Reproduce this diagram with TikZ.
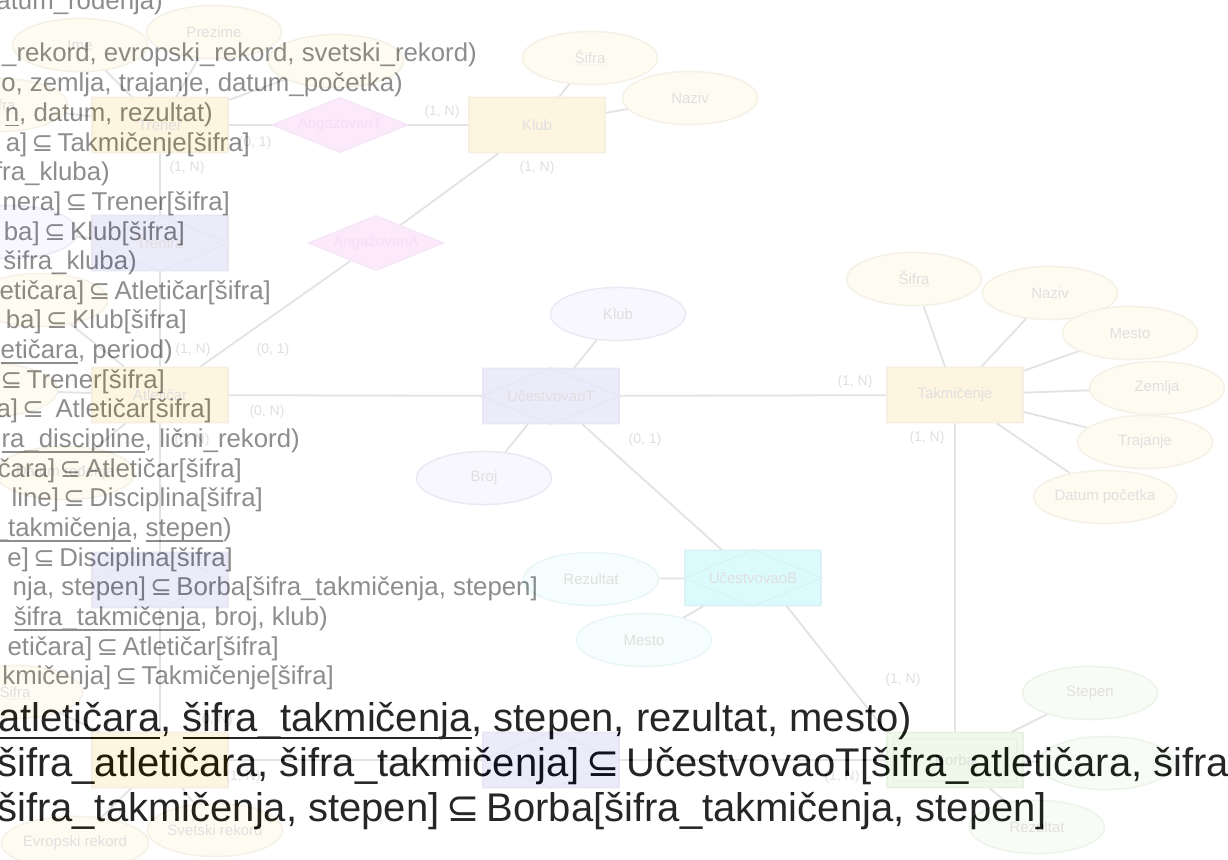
\documentclass[tikz,border=0pt]{standalone}
\usepackage{fontspec}
\setmainfont{Liberation Sans}
\newfontfamily\dejavu{DejaVu Sans}
\usetikzlibrary{shapes.geometric}
\definecolor{ertext}{RGB}{122,122,122}
\definecolor{erline}{RGB}{70,70,70}
\definecolor{erentfill}{RGB}{245,190,50}
\definecolor{erentdraw}{RGB}{200,150,60}
\definecolor{erattrfill}{RGB}{250,232,160}
\definecolor{erattrdraw}{RGB}{190,165,100}
\definecolor{erpinkfill}{RGB}{235,120,235}
\definecolor{erpinkdraw}{RGB}{205,90,205}
\definecolor{erpinktext}{RGB}{180,40,180}
\definecolor{erlavfill}{RGB}{125,125,225}
\definecolor{erlavdraw}{RGB}{95,95,185}
\definecolor{erlavattr}{RGB}{205,205,245}
\definecolor{erlavattrdraw}{RGB}{120,120,195}
\definecolor{ercyanfill}{RGB}{20,225,240}
\definecolor{ercyandraw}{RGB}{0,170,190}
\definecolor{ercyanattr}{RGB}{190,245,245}
\definecolor{ercyanattrdraw}{RGB}{110,200,205}
\definecolor{ergreenfill}{RGB}{150,215,110}
\definecolor{ergreendraw}{RGB}{100,170,70}
\definecolor{ergreenattr}{RGB}{215,238,200}
\definecolor{ergreenattrdraw}{RGB}{140,185,120}
\definecolor{erlabel}{RGB}{45,45,45}
\newsavebox{\erulbox}
\newcommand{\erul}[1]{\sbox{\erulbox}{#1}\rlap{\rule[-0.2em]{\wd\erulbox}{0.055em}}\usebox{\erulbox}}
\newcommand{\sube}{\makebox[0.62em]{\dejavu ⊆}}
\tikzset{
  erold/.style={anchor=base east, inner sep=0pt, text=ertext, font=\fontsize{25.8}{29.7}\selectfont},
  ernew/.style={anchor=base west, inner sep=0pt, text=black, font=\fontsize{40}{46}\selectfont},
  erent/.style={draw=erentdraw, fill=erentfill, line width=1.6pt, minimum width=136pt,
    minimum height=55pt, inner sep=0pt, text=erlabel, font=\fontsize{15}{17}\selectfont},
  erweak/.style={erent, draw=ergreendraw, fill=ergreenfill},
  errel/.style={diamond, aspect=2.45, draw=erpinkdraw, fill=erpinkfill, line width=1.6pt,
    minimum width=135pt, minimum height=55pt, inner sep=0pt, text=erpinktext,
    font=\fontsize{15}{17}\selectfont},
  erassoc/.style={erent, draw=erlavdraw, fill=erlavfill},
  erassocc/.style={erent, draw=ercyandraw, fill=ercyanfill},
  erattr/.style={ellipse, draw=erattrdraw, fill=erattrfill, line width=1.6pt, minimum width=135pt,
    minimum height=53pt, inner sep=0pt, text=erlabel, font=\fontsize{15}{17}\selectfont},
  erattrl/.style={erattr, draw=erlavattrdraw, fill=erlavattr},
  erattrc/.style={erattr, draw=ercyanattrdraw, fill=ercyanattr},
  erattrg/.style={erattr, draw=ergreenattrdraw, fill=ergreenattr},
  erlink/.style={draw=erline, line width=1.8pt},
  ercard/.style={inner sep=0pt, text=erlabel, font=\fontsize{14}{16}\selectfont}
}

\begin{document}
\begin{tikzpicture}[x=1pt,y=-1pt]
  \useasboundingbox (0,0) rectangle (1228,859);
  \clip (0,0) rectangle (1228,859);
  \fill[white] (0,0) rectangle (1228,859);
  \node[erold] (r01) at (163,10) {atum\_rođenja)};
  \node[erold] (r02) at (477,62) {\_rekord, evropski\_rekord, svetski\_rekord)};
  \node[erold] (r03) at (403,91.7) {o, zemlja, trajanje, datum\_početka)};
  \node[erold] (r04) at (213,121.3) {\erul{n}, datum, rezultat)};
  \node[erold] (r05) at (250,151) {a] \sube{} Takmičenje[šifra]};
  \node[erold] (r06) at (110,180.6) {fra\_kluba)};
  \node[erold] (r07) at (230,210.3) {nera] \sube{} Trener[šifra]};
  \node[erold] (r08) at (185,240) {ba] \sube{} Klub[šifra]};
  \node[erold] (r09) at (137,269.6) {šifra\_kluba)};
  \node[erold] (r10) at (271,299.3) {etičara] \sube{} Atletičar[šifra]};
  \node[erold] (r11) at (187,328.9) {ba] \sube{} Klub[šifra]};
  \node[erold] (r12) at (173,358.6) {\erul{etičara}, period)};
  \node[erold] (r13) at (165,388.3) {\sube{} Trener[šifra]};
  \node[erold] (r14) at (212,417.9) {a] \sube{} ~Atletičar[šifra]};
  \node[erold] (r15) at (300,447.6) {\erul{ra\_discipline}, lični\_rekord)};
  \node[erold] (r16) at (242,477.2) {čara] \sube{} Atletičar[šifra]};
  \node[erold] (r17) at (263,506.9) {line] \sube{} Disciplina[šifra]};
  \node[erold] (r18) at (232,536.6) {\erul{\_takmičenja}, \erul{stepen})};
  \node[erold] (r19) at (233,566.2) {e] \sube{} Disciplina[šifra]};
  \node[erold] (r20) at (538,595.9) {nja, stepen] \sube{} Borba[šifra\_takmičenja, stepen]};
  \node[erold] (r21) at (328,625.5) {\erul{šifra\_takmičenja}, broj, klub)};
  \node[erold] (r22) at (279,655.2) {etičara] \sube{} Atletičar[šifra]};
  \node[erold] (r23) at (334,684.9) {kmičenja] \sube{} Takmičenje[šifra]};
  \node[ernew, anchor=base east] (n1) at (912,731) {\erul{\_atletičara}, \erul{šifra\_takmičenja}, stepen, rezultat, mesto)};
  \node[ernew] (n2) at (-3,776) {šifra\_atletičara, šifra\_takmičenja] \sube{} UčestvovaoT[šifra\_atletičara, šifra};
  \node[ernew] (n3) at (-3,821) {šifra\_takmičenja, stepen] \sube{} Borba[šifra\_takmičenja, stepen]};
  \begin{scope}[transparency group, opacity=0.15]
    \fill[white] (0,0) rectangle (1228,859);
    \node[erent] (eTrener) at (160,125) {Trener};
    \node[erent] (eKlub) at (537,125) {Klub};
    \node[erent] (eAtl) at (160,395) {Atletičar};
    \node[erent] (eTak) at (955,395) {Takmičenje};
    \node[erent] (eDis) at (160,760) {};
    \node[erweak] (eBorba) at (955,760) {Borba};
    \draw[draw=ergreendraw, line width=1.4pt] ([shift={(7,7)}]eBorba.north west) rectangle ([shift={(-7,-7)}]eBorba.south east);
    \node[errel] (rAngT) at (340,125) {AngažovanT};
    \node[errel] (rAngA) at (376,243) {AngažovanA};
    \node[erassoc] (aTrenira) at (160,243) {Trenira};
    \node[erassoc] (aUcT) at (551,396) {UčestvovaoT};
    \node[erassoc] (aRek) at (160,580) {};
    \node[erassoc] (aBor) at (551,760) {};
    \node[erassocc] (aUcB) at (753,578) {UčestvovaoB};
    \foreach \n in {aTrenira,aUcT,aRek,aBor}
      \draw[draw=erlavdraw, line width=1.4pt] (\n.north) -- (\n.east) -- (\n.south) -- (\n.west) -- cycle;
    \draw[draw=ercyandraw, line width=1.4pt] (aUcB.north) -- (aUcB.east) -- (aUcB.south) -- (aUcB.west) -- cycle;
    \node[erattr] (aTrSif) at (0,105) {\underline{Šifra}};
    \node[erattr] (aIme) at (80,45) {Ime};
    \node[erattr] (aPrez) at (214,32) {Prezime};
    \node[erattr] (aTrDat) at (336,61) {};
    \node[erattr] (aKSif) at (590,58) {\underline{Šifra}};
    \node[erattr] (aKNaz) at (690,98) {Naziv};
    \node[erattr] (aTSif) at (914,279) {\underline{Šifra}};
    \node[erattr] (aTNaz) at (1050,293) {Naziv};
    \node[erattr] (aTMes) at (1130,333) {Mesto};
    \node[erattr] (aTZem) at (1157,388) {Zemlja};
    \node[erattr] (aTTra) at (1145,442) {Trajanje};
    \node[erattr] (aTDat) at (1105,497) {Datum početka};
    \node[erattr] (aA1) at (40,300) {};
    \node[erattr] (aA2) at (-10,390) {};
    \node[erattr] (aADat) at (65,473) {Datum rođenja};
    \node[erattrl] (aTrP) at (10,232) {};
    \node[erattrl] (aUKlub) at (618,314) {Klub};
    \node[erattrl] (aUBroj) at (484,478) {Broj};
    \node[erattrc] (aBRez) at (591,579) {Rezultat};
    \node[erattrc] (aBMes) at (644,640) {Mesto};
    \node[erattrg] (aGSte) at (1090,693) {Stepen};
    \node[erattrg] (aG2) at (1106,763) {};
    \node[erattrg] (aGRez) at (1037,827) {Rezultat};
    \node[erattr] (aDSif) at (15,692) {\underline{Šifra}};
    \node[erattr] (aDEvr) at (75,843) {Evropski rekord};
    \node[erattr] (aDSve) at (215,830) {Svetski rekord};
    \draw[erlink] (aTrSif) -- (eTrener);
    \draw[erlink] (aIme) -- (eTrener);
    \draw[erlink] (aPrez) -- (eTrener);
    \draw[erlink] (aTrDat) -- (eTrener);
    \draw[erlink] (eTrener) -- (rAngT);
    \draw[erlink] (rAngT) -- (eKlub);
    \draw[erlink] (aKSif) -- (eKlub);
    \draw[erlink] (aKNaz) -- (eKlub);
    \draw[erlink] (eKlub) -- (rAngA);
    \draw[erlink] (rAngA) -- (eAtl);
    \draw[erlink] (eTrener) -- (aTrenira);
    \draw[erlink] (aTrenira) -- (eAtl);
    \draw[erlink] (aTrP) -- (aTrenira);
    \draw[erlink] (eAtl) -- (aRek);
    \draw[erlink] (aRek) -- (eDis);
    \draw[erlink] (aA1) -- (eAtl);
    \draw[erlink] (aA2) -- (eAtl);
    \draw[erlink] (aADat) -- (eAtl);
    \draw[erlink] (eAtl) -- (aUcT);
    \draw[erlink] (aUcT) -- (eTak);
    \draw[erlink] (aUKlub) -- (aUcT);
    \draw[erlink] (aUBroj) -- (aUcT);
    \draw[erlink] (aUcT) -- (aUcB);
    \draw[erlink] (aTSif) -- (eTak);
    \draw[erlink] (aTNaz) -- (eTak);
    \draw[erlink] (aTMes) -- (eTak);
    \draw[erlink] (aTZem) -- (eTak);
    \draw[erlink] (aTTra) -- (eTak);
    \draw[erlink] (aTDat) -- (eTak);
    \draw[erlink] (eTak) -- (eBorba);
    \draw[erlink] (aBRez) -- (aUcB);
    \draw[erlink] (aBMes) -- (aUcB);
    \draw[erlink] (aUcB.-40) -- (eBorba.north west);
    \draw[erlink] (aGSte) -- (eBorba);
    \draw[erlink] (aG2) -- (eBorba);
    \draw[erlink] (aGRez) -- (eBorba);
    \draw[erlink] (eDis) -- (aBor);
    \draw[erlink] (aBor) -- (eBorba);
    \draw[erlink] (aDSif) -- (eDis);
    \draw[erlink] (aDEvr) -- (eDis);
    \draw[erlink] (aDSve) -- (eDis);
    \node[ercard] (c01) at (442,112) {(1, N)};
    \node[ercard] (c02) at (255,143) {(0, 1)};
    \node[ercard] (c03) at (187,168) {(1, N)};
    \node[ercard] (c04) at (537,168) {(1, N)};
    \node[ercard] (c05) at (193,350) {(1, N)};
    \node[ercard] (c06) at (273,350) {(0, 1)};
    \node[ercard] (c07) at (267,412) {(0, N)};
    \node[ercard] (c08) at (192,440) {(0, N)};
    \node[ercard] (c09) at (645,440) {(0, 1)};
    \node[ercard] (c10) at (855,382) {(1, N)};
    \node[ercard] (c11) at (927,438) {(1, N)};
    \node[ercard] (c12) at (903,680) {(1, N)};
    \node[ercard] (c13) at (842,777) {(1, N)};
    \node[ercard] (c14) at (215,720) {(0, N)};
    \node[ercard] (c15) at (243,777) {(1, N)};
  \end{scope}
\end{tikzpicture}
\end{document}
